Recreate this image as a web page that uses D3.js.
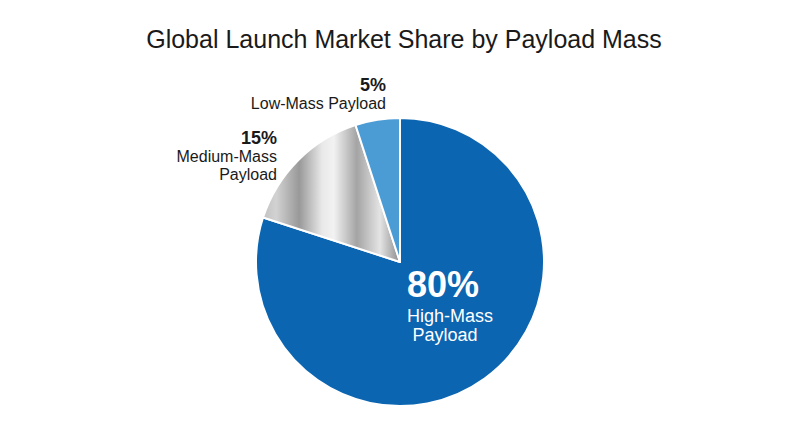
<!DOCTYPE html>
<html>
<head>
<meta charset="utf-8">
<script src="https://cdn.jsdelivr.net/npm/d3@7"></script>
<style>
  body { margin: 0; background: #fff; }
  text { font-family: "Liberation Sans", Arial, Helvetica, sans-serif; }
</style>
</head>
<body>
<div id="chart"></div>
<script>
var width = 800;
var height = 447;

// data
var categories = ["High-Mass Payload", "Medium-Mass Payload", "Low-Mass Payload"];
var shares = [80, 15, 5];
var labelLines = [["High-Mass", "Payload"], ["Medium-Mass", "Payload"], ["Low-Mass Payload"]];
var colors = ["#0b65b1", "url(#silver)", "#4b9bd5"];

var cx = 400, cy = 262, radius = 144;

var svg = d3.select("#chart").append("svg")
  .attr("width", width)
  .attr("height", height);

// metallic gradient for the medium slice (coords are in the pie group's space)
var grad = svg.append("defs").append("linearGradient")
  .attr("id", "silver")
  .attr("gradientUnits", "userSpaceOnUse")
  .attr("x1", -radius).attr("y1", 0)
  .attr("x2", 0).attr("y2", 0);
var stops = [
  [0, "#bababa"], [0.14, "#d2d2d2"], [0.3, "#999999"], [0.46, "#e9e9e9"],
  [0.54, "#f2f2f2"], [0.7, "#a4a4a4"], [0.86, "#e4e4e4"], [1, "#8c8c8c"]
];
grad.selectAll("stop").data(stops).enter().append("stop")
  .attr("offset", function(d) { return d[0]; })
  .attr("stop-color", function(d) { return d[1]; });

svg.append("text")
  .attr("x", width / 2 + 4)
  .attr("y", 48)
  .attr("text-anchor", "middle")
  .attr("font-size", 25)
  .attr("fill", "#1a1a1a")
  .text("Global Launch Market Share by Payload Mass");

var pie = d3.pie().sort(null).value(function(d) { return d; });
var arc = d3.arc().innerRadius(0).outerRadius(radius);
var arcs = pie(shares);

var g = svg.append("g").attr("transform", "translate(" + cx + "," + cy + ")");

g.selectAll("path").data(arcs).enter().append("path")
  .attr("d", arc)
  .attr("fill", function(d, i) { return colors[i]; })
  .attr("stroke", "#fff")
  .attr("stroke-width", 2)
  .attr("stroke-linejoin", "round");

// inside label for the big slice
var big = g.append("g").attr("transform", "translate(47,0)");
big.append("text")
  .attr("x", -4)
  .attr("y", 35)
  .attr("text-anchor", "middle")
  .attr("font-size", 36)
  .attr("font-weight", "bold")
  .attr("fill", "#fff")
  .text(shares[0] + "%");
big.selectAll("text.line").data(labelLines[0]).enter().append("text")
  .attr("class", "line")
  .attr("x", function(d, i) { return i === 0 ? 3 : -2; })
  .attr("y", function(d, i) { return 60 + i * 19; })
  .attr("text-anchor", "middle")
  .attr("font-size", 18)
  .attr("fill", "#fff")
  .text(function(d) { return d; });

// outside labels, right aligned next to the slices
var outside = [
  { idx: 1, x: -123, y: -118 },
  { idx: 2, x: -14, y: -171 }
];
outside.forEach(function(o) {
  var lg = g.append("g").attr("transform", "translate(" + o.x + "," + o.y + ")");
  lg.append("text")
    .attr("text-anchor", "end")
    .attr("font-size", 18)
    .attr("font-weight", "bold")
    .attr("fill", "#1a1a1a")
    .text(shares[o.idx] + "%");
  lg.selectAll("text.line").data(labelLines[o.idx]).enter().append("text")
    .attr("class", "line")
    .attr("y", function(d, i) { return 18 + i * 18; })
    .attr("text-anchor", "end")
    .attr("font-size", 16)
    .attr("fill", "#1a1a1a")
    .text(function(d) { return d; });
});
</script>
</body>
</html>
